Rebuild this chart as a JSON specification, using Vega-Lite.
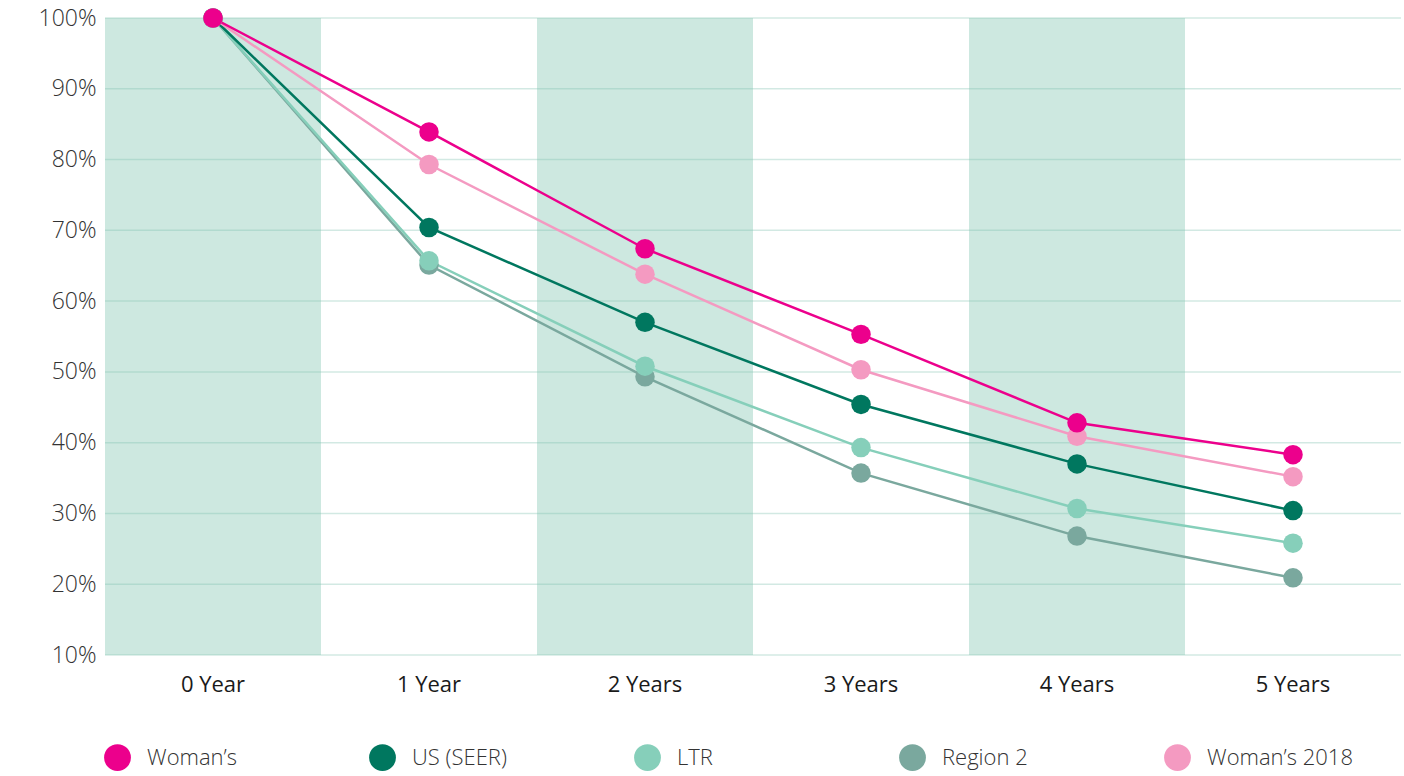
{
  "$schema": "https://vega.github.io/schema/vega-lite/v6.json",
  "width": 1296,
  "height": 637,
  "autosize": "none",
  "padding": {"left": 105, "top": 18, "right": 3, "bottom": 121},
  "background": "white",
  "config": {
    "view": {"stroke": null},
    "font": "Open Sans"
  },
  "datasets": {
    "survival": [
      {"period": "0 Year", "series": "Region 2", "value": 100},
      {"period": "1 Year", "series": "Region 2", "value": 65.1},
      {"period": "2 Years", "series": "Region 2", "value": 49.3},
      {"period": "3 Years", "series": "Region 2", "value": 35.7},
      {"period": "4 Years", "series": "Region 2", "value": 26.8},
      {"period": "5 Years", "series": "Region 2", "value": 20.9},
      {"period": "0 Year", "series": "LTR", "value": 100},
      {"period": "1 Year", "series": "LTR", "value": 65.7},
      {"period": "2 Years", "series": "LTR", "value": 50.8},
      {"period": "3 Years", "series": "LTR", "value": 39.3},
      {"period": "4 Years", "series": "LTR", "value": 30.7},
      {"period": "5 Years", "series": "LTR", "value": 25.8},
      {"period": "0 Year", "series": "US (SEER)", "value": 100},
      {"period": "1 Year", "series": "US (SEER)", "value": 70.4},
      {"period": "2 Years", "series": "US (SEER)", "value": 57.0},
      {"period": "3 Years", "series": "US (SEER)", "value": 45.4},
      {"period": "4 Years", "series": "US (SEER)", "value": 37.0},
      {"period": "5 Years", "series": "US (SEER)", "value": 30.4},
      {"period": "0 Year", "series": "Woman’s 2018", "value": 100},
      {"period": "1 Year", "series": "Woman’s 2018", "value": 79.3},
      {"period": "2 Years", "series": "Woman’s 2018", "value": 63.8},
      {"period": "3 Years", "series": "Woman’s 2018", "value": 50.3},
      {"period": "4 Years", "series": "Woman’s 2018", "value": 40.9},
      {"period": "5 Years", "series": "Woman’s 2018", "value": 35.2},
      {"period": "0 Year", "series": "Woman’s", "value": 100},
      {"period": "1 Year", "series": "Woman’s", "value": 83.9},
      {"period": "2 Years", "series": "Woman’s", "value": 67.4},
      {"period": "3 Years", "series": "Woman’s", "value": 55.3},
      {"period": "4 Years", "series": "Woman’s", "value": 42.8},
      {"period": "5 Years", "series": "Woman’s", "value": 38.3}
    ],
    "bands": [
      {"period": "0 Year"},
      {"period": "2 Years"},
      {"period": "4 Years"}
    ],
    "grid": [
      {"v": 10}, {"v": 20}, {"v": 30}, {"v": 40}, {"v": 50},
      {"v": 60}, {"v": 70}, {"v": 80}, {"v": 90}, {"v": 100}
    ]
  },
  "layer": [
    {
      "data": {"name": "bands"},
      "mark": {"type": "rect", "fill": "#cde8e0"},
      "encoding": {
        "x": {
          "field": "period", "type": "nominal",
          "sort": ["0 Year", "1 Year", "2 Years", "3 Years", "4 Years", "5 Years"],
          "scale": {"domain": ["0 Year", "1 Year", "2 Years", "3 Years", "4 Years", "5 Years"], "paddingInner": 0, "paddingOuter": 0},
          "axis": {"title": null, "labelAngle": 0, "domain": false, "ticks": false, "labelFontSize": 22, "labelFont": "Open Sans", "labelColor": "#1a1a1a", "labelPadding": 19}
        },
        "y": {
          "datum": 100, "type": "quantitative",
          "scale": {"domain": [10, 100], "nice": false, "zero": false},
          "axis": {"title": null, "grid": false, "domain": false, "ticks": false, "values": [10, 20, 30, 40, 50, 60, 70, 80, 90, 100], "labelExpr": "datum.value + '%'", "labelFontSize": 23, "labelFont": "Open Sans", "labelFontWeight": 300, "labelColor": "#333333", "labelPadding": 9}
        },
        "y2": {"datum": 10}
      }
    },
    {
      "data": {"name": "grid"},
      "mark": {"type": "rule", "color": "#7fbfae", "opacity": 0.35, "strokeWidth": 1.5},
      "encoding": {
        "y": {"field": "v", "type": "quantitative"}
      }
    },
    {
      "data": {"name": "survival"},
      "mark": {"type": "line", "strokeWidth": 2.5},
      "encoding": {
        "x": {"field": "period", "type": "nominal"},
        "y": {"field": "value", "type": "quantitative"},
        "color": {
          "field": "series", "type": "nominal",
          "scale": {
            "domain": ["Woman’s", "US (SEER)", "LTR", "Region 2", "Woman’s 2018"],
            "range": ["#ec008c", "#00775f", "#86cfba", "#7aa89e", "#f49ac1"]
          },
          "legend": {
            "orient": "none",
            "legendX": -1,
            "legendY": 726,
            "direction": "horizontal",
            "columns": 5,
            "gridAlign": "all",
            "title": null,
            "symbolType": "circle",
            "symbolSize": 720,
            "symbolOpacity": 1,
            "symbolStrokeWidth": 0,
            "labelFontSize": 22,
            "labelFont": "Open Sans",
            "labelFontWeight": 300,
            "labelColor": "#333333",
            "labelOffset": 16,
            "labelLimit": 300,
            "columnPadding": 76,
            "padding": 0
          }
        }
      }
    },
    {
      "data": {"name": "survival"},
      "mark": {"type": "point", "filled": true, "opacity": 1, "size": 380},
      "encoding": {
        "x": {"field": "period", "type": "nominal"},
        "y": {"field": "value", "type": "quantitative"},
        "color": {
          "field": "series", "type": "nominal",
          "legend": {
            "orient": "none",
            "legendX": -1,
            "legendY": 726,
            "direction": "horizontal",
            "columns": 5,
            "gridAlign": "all",
            "title": null,
            "symbolType": "circle",
            "symbolSize": 720,
            "symbolOpacity": 1,
            "symbolStrokeWidth": 0,
            "labelFontSize": 22,
            "labelFont": "Open Sans",
            "labelFontWeight": 300,
            "labelColor": "#333333",
            "labelOffset": 16,
            "labelLimit": 300,
            "columnPadding": 76,
            "padding": 0
          }
        }
      }
    }
  ]
}
